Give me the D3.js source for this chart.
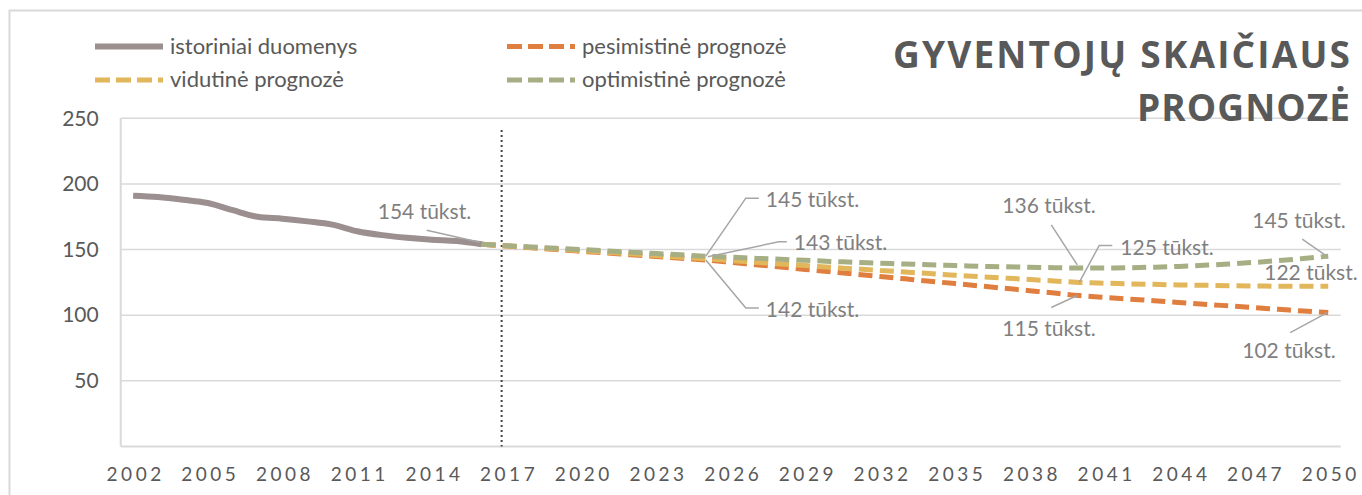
<!DOCTYPE html>
<html>
<head>
<meta charset="utf-8">
<script src="https://cdn.jsdelivr.net/npm/d3@7"></script>
<style>
  body { margin: 0; background: #fff; }
  svg { display: block; }
</style>
</head>
<body>
<div id="chart"></div>
<script>
const firstYear = 2002
const lastYear = 2050
const years = d3.range(firstYear, lastYear + 1)
const tickYears = [2002, 2005, 2008, 2011, 2014, 2017, 2020, 2023, 2026, 2029, 2032, 2035, 2038, 2041, 2044, 2047, 2050]
const yTicks = [50, 100, 150, 200, 250]

// 2002 - 2016
const historical = [191, 190, 188, 185.5, 180, 175, 173.5, 171.5, 169, 164, 161, 159, 157.5, 156.5, 154]
// 2016 - 2050
const pessimistic = [154, 152.7, 151.4, 150, 148.7, 147.4, 146, 144.7, 143.3, 142,
  140.3, 138.5, 136.7, 134.9, 133.1, 131.3, 129.5, 127.7, 125.9, 124.1,
  122.3, 120.5, 118.7, 116.9, 115, 113.6, 112.3, 111, 109.7, 108.4,
  107.1, 105.8, 104.5, 103.2, 102]
const medium = [154, 152.8, 151.6, 150.4, 149.2, 148, 146.8, 145.5, 144.2, 143,
  141.7, 140.4, 139.1, 137.8, 136.5, 135.3, 134.1, 132.9, 131.7, 130.5,
  129.4, 128.3, 127.2, 126.1, 125, 124.4, 123.9, 123.5, 123.1, 122.8,
  122.5, 122.3, 122.1, 122, 122]
const optimistic = [154, 153, 152, 151, 150, 149, 148, 147, 146, 145,
  144.2, 143.4, 142.6, 141.8, 141, 140.3, 139.6, 139, 138.4, 137.8,
  137.3, 136.9, 136.5, 136.2, 136, 136, 136.2, 136.6, 137.2, 138,
  139, 140.2, 141.6, 143.2, 145]
const histStart = 2002
const forecastStart = 2016

const labels = ["istoriniai duomenys", "pesimistinė prognozė", "vidutinė prognozė", "optimistinė prognozė"]
const colors = ["#9b8f8f", "#e07e3f", "#e2b65a", "#a6ae84"]

// callouts: which series/year, label offset and leader path relative to the point
const callouts = [
  {s: 0, year: 2016, tx: -104, ty: -25, path: [[-55, -14], [-2, -2]]},
  {s: 3, year: 2025, tx: 60, ty: -49, path: [[0, 0], [40, -58], [53, -58]]},
  {s: 2, year: 2025, tx: 88, ty: -9, path: [[2, -2], [73, -17], [81, -17]]},
  {s: 1, year: 2025, tx: 60, ty: 57, path: [[0, 0], [40, 48], [53, 48]]},
  {s: 3, year: 2040, tx: -77, ty: -55, path: [[-28, -43], [-2, -3]]},
  {s: 2, year: 2040, tx: 41, ty: -27, path: [[0, 0], [20, -37], [33, -37]]},
  {s: 1, year: 2040, tx: -77, ty: 40, path: [[-28, 12], [-2, 0]]},
  {s: 3, year: 2050, tx: -76, ty: -28, path: [[-26, -17], [-3, -1]]},
  {s: 2, year: 2050, tx: -64, ty: -6, path: null},
  {s: 1, year: 2050, tx: -86, ty: 45, path: [[-38, 20], [-1, 0]]}
]

const width = 1362
const height = 495
const plotLeft = 120.7, plotRight = 1340.7, plotTop = 118.3, plotBottom = 446.5

const svg = d3.select("#chart").append("svg")
  .attr("width", width)
  .attr("height", height)

svg.append("rect")
  .attr("x", 9.5).attr("y", 10.5)
  .attr("width", 1500).attr("height", 600)
  .attr("fill", "none")
  .attr("stroke", "#d9d9d9")
  .attr("stroke-width", 2)

const x = d3.scalePoint().domain(years).range([plotLeft, plotRight]).padding(0.5)
const y = d3.scaleLinear().domain([0, 250]).range([plotBottom, plotTop])

const toPoints = (vals, start) => vals.map((v, i) => ({year: start + i, v}))
const series = [
  toPoints(historical, histStart),
  toPoints(pessimistic, forecastStart),
  toPoints(medium, forecastStart),
  toPoints(optimistic, forecastStart)
]

// grid
svg.append("g")
  .selectAll("line")
  .data(yTicks)
  .join("line")
  .attr("x1", plotLeft).attr("x2", plotRight)
  .attr("y1", d => y(d)).attr("y2", d => y(d))
  .attr("stroke", "#d9d9d9")
  .attr("stroke-width", 1.5)

svg.append("line")
  .attr("x1", plotLeft).attr("x2", plotLeft)
  .attr("y1", y(250)).attr("y2", y(0))
  .attr("stroke", "#d9d9d9").attr("stroke-width", 2)
svg.append("line")
  .attr("x1", plotLeft).attr("x2", plotRight)
  .attr("y1", y(0)).attr("y2", y(0))
  .attr("stroke", "#d9d9d9").attr("stroke-width", 2)

const xAxis = svg.append("g")
  .attr("transform", `translate(0,${y(0)})`)
  .call(d3.axisBottom(x).tickValues(tickYears).tickSize(0).tickPadding(21))
xAxis.select(".domain").remove()
xAxis.selectAll("text")
  .attr("fill", "#595959")
  .style("font-family", "Lato, sans-serif")
  .style("font-size", "19px")
  .style("letter-spacing", "3.5px")
  .attr("dx", "2px")

const yAxis = svg.append("g")
  .attr("transform", `translate(${plotLeft},0)`)
  .call(d3.axisLeft(y).tickValues(yTicks).tickSize(0).tickPadding(22))
yAxis.select(".domain").remove()
yAxis.selectAll("text")
  .attr("fill", "#595959")
  .style("font-family", "Lato, sans-serif")
  .style("font-size", "21px")

// separator between history and forecast
const sepX = x(2016) + 0.8 * x.step()
svg.append("line")
  .attr("x1", sepX).attr("x2", sepX)
  .attr("y1", 130).attr("y2", y(0))
  .attr("stroke", "#444")
  .attr("stroke-width", 2)
  .attr("stroke-dasharray", "2,3")

const line = d3.line()
  .x(d => x(d.year))
  .y(d => y(d.v))
  .curve(d3.curveMonotoneX)

svg.append("g")
  .attr("fill", "none")
  .selectAll("path")
  .data([1, 2, 3, 0])
  .join("path")
  .attr("d", i => line(series[i]))
  .attr("stroke", i => colors[i])
  .attr("stroke-width", i => i == 0 ? 6 : 5)
  .attr("stroke-dasharray", i => i == 0 ? null : "14,7")

// callouts
const valueAt = (s, year) => series[s].find(d => d.year == year).v
const cg = svg.append("g")
for (let c of callouts) {
  const v = valueAt(c.s, c.year)
  const ax = x(c.year), ay = y(v)
  if (c.path) {
    cg.append("path")
      .attr("d", d3.line()(c.path.map(p => [ax + p[0], ay + p[1]])))
      .attr("fill", "none")
      .attr("stroke", "#a6a6a6")
      .attr("stroke-width", 1.5)
  }
  cg.append("text")
    .attr("x", ax + c.tx)
    .attr("y", ay + c.ty)
    .attr("fill", "#7f7f7f")
    .style("font-family", "Lato, sans-serif")
    .style("font-size", "21px")
    .text(Math.round(v) + " tūkst.")
}

// legend
const legendPos = [[95, 46.5], [507, 46.5], [95, 80], [507, 80]]
const legend = svg.append("g")
  .selectAll("g")
  .data([0, 1, 2, 3])
  .join("g")
  .attr("transform", i => `translate(${legendPos[i][0]},${legendPos[i][1]})`)
legend.append("line")
  .attr("x1", 0).attr("x2", 68)
  .attr("stroke", i => colors[i])
  .attr("stroke-width", i => i == 0 ? 6 : 5)
  .attr("stroke-dasharray", i => i == 0 ? null : "15,6")
legend.append("text")
  .attr("x", 75)
  .attr("y", 7)
  .attr("fill", "#595959")
  .style("font-family", "Lato, sans-serif")
  .style("font-size", "22px")
  .text(i => labels[i])

// title
const title = svg.append("g")
  .attr("fill", "#595959")
  .style("font-family", "'Open Sans', sans-serif")
  .style("font-weight", "bold")
  .style("font-size", "37px")
title.append("text")
  .attr("x", 893).attr("y", 68)
  .attr("textLength", 457)
  .attr("lengthAdjust", "spacing")
  .text("GYVENTOJŲ SKAIČIAUS")
title.append("text")
  .attr("x", 1137).attr("y", 121)
  .attr("textLength", 213)
  .attr("lengthAdjust", "spacing")
  .text("PROGNOZĖ")
</script>
</body>
</html>
